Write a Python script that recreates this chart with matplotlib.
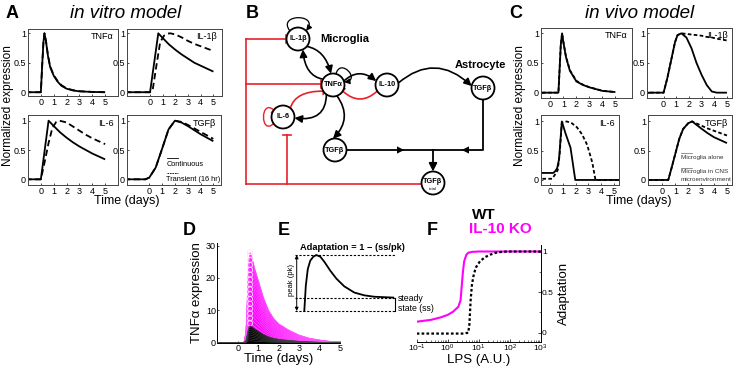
import matplotlib
matplotlib.use('Agg')
import matplotlib.pyplot as plt
import numpy as np
from matplotlib.patches import Circle, FancyArrowPatch, PathPatch
from matplotlib.path import Path

plt.rcParams['font.family'] = ['Liberation Sans', 'DejaVu Sans']
plt.rcParams['mathtext.default'] = 'regular'

# ---------------- DATA ----------------
# Panel A (in vitro) : time (days) and normalized expression
a_tnf_t = [-2, 0, 0.1, 0.2, 0.28, 0.4, 0.55, 0.72, 1.0, 1.3, 1.6, 2.0, 2.5, 3.0, 4.0, 5.0]
a_tnf_cont = [0, 0, 0.45, 0.85, 1.0, 0.86, 0.62, 0.43, 0.28, 0.18, 0.11, 0.06, 0.03, 0.015, 0.005, 0.0]
a_tnf_trans = [0, 0, 0.44, 0.84, 1.0, 0.87, 0.63, 0.44, 0.29, 0.19, 0.12, 0.065, 0.035, 0.017, 0.006, 0.0]

a_il1_t_c = [-2, 0, 0.65, 1.0, 1.5, 2.0, 2.5, 3.0, 3.5, 4.0, 4.5, 5.0]
a_il1_cont = [0, 0, 1.0, 0.92, 0.81, 0.72, 0.64, 0.57, 0.50, 0.45, 0.40, 0.35]
a_il1_t_d = [-2, 0, 0.2, 0.5, 0.8, 1.1, 1.4, 1.6, 2.0, 2.5, 3.0, 3.5, 4.0, 4.5, 5.0]
a_il1_trans = [0, 0, 0.03, 0.45, 0.85, 0.96, 0.995, 1.0, 0.98, 0.93, 0.87, 0.82, 0.78, 0.74, 0.70]

a_il6_t_c = [-2, 0, 0.6, 1.0, 1.5, 2.0, 2.5, 3.0, 3.5, 4.0, 4.5, 5.0]
a_il6_cont = [0, 0, 1.0, 0.91, 0.80, 0.71, 0.63, 0.56, 0.50, 0.44, 0.39, 0.34]
a_il6_t_d = [-2, 0, 0.3, 0.6, 0.9, 1.2, 1.45, 2.0, 2.5, 3.0, 3.5, 4.0, 4.5, 5.0]
a_il6_trans = [0, 0, 0.3, 0.62, 0.88, 0.98, 1.0, 0.97, 0.9, 0.83, 0.76, 0.70, 0.65, 0.60]

a_tgf_t = [-2, -0.3, 0, 0.5, 1.0, 1.5, 2.0, 2.5, 3.0, 3.5, 4.0, 4.5, 5.0]
a_tgf_cont = [0, 0, 0.03, 0.2, 0.52, 0.85, 1.0, 0.97, 0.91, 0.84, 0.77, 0.71, 0.65]
a_tgf_trans = [0, 0, 0.03, 0.2, 0.52, 0.85, 1.0, 0.98, 0.93, 0.87, 0.81, 0.75, 0.69]

# Panel C (in vivo)
c_tnf_t = [-2, 0.62, 0.7, 0.8, 0.9, 1.0, 1.2, 1.5, 2.0, 2.5, 3.0, 3.5, 4.0, 4.5, 5.0]
c_tnf_env = [0, 0, 0.35, 0.8, 1.0, 0.85, 0.6, 0.37, 0.19, 0.13, 0.09, 0.06, 0.03, 0.02, 0.01]
c_tnf_alone = [0, 0, 0.34, 0.79, 1.0, 0.86, 0.61, 0.38, 0.2, 0.135, 0.092, 0.062, 0.032, 0.02, 0.01]

c_il1_t = [-2, 0, 0.3, 0.6, 0.9, 1.1, 1.4, 1.8, 2.2, 2.6, 3.0, 3.4, 3.8, 4.2, 5.0]
c_il1_env = [0, 0, 0.25, 0.55, 0.85, 0.97, 1.0, 0.93, 0.75, 0.5, 0.3, 0.13, 0.02, 0, 0]
c_il1_alone = [0, 0, 0.25, 0.55, 0.85, 0.97, 1.0, 0.99, 0.98, 0.97, 0.96, 0.94, 0.93, 0.91, 0.88]

c_il6_t_env = [-2, 0.25, 0.4, 0.55, 0.7, 0.92, 1.2, 1.6, 1.97, 5.4]
c_il6_env = [0.12, 0.12, 0.15, 0.2, 0.35, 1.0, 0.8, 0.55, 0, 0]
c_il6_t_alone = [-2, 0.15, 0.35, 0.6, 0.75, 0.92, 1.3, 1.7, 2.1, 2.5, 2.9, 3.3, 3.55, 5.4]
c_il6_alone = [0.02, 0.02, 0.08, 0.17, 0.45, 0.98, 1.0, 0.97, 0.9, 0.78, 0.6, 0.3, 0, 0]

c_tgf_t = [-2, 0.45, 0.7, 1.0, 1.3, 1.6, 2.0, 2.3, 3.0, 3.5, 4.0, 4.5, 5.0]
c_tgf_env = [0, 0, 0.2, 0.45, 0.7, 0.87, 0.97, 1.0, 0.88, 0.8, 0.73, 0.68, 0.63]
c_tgf_alone = [0, 0, 0.2, 0.45, 0.7, 0.87, 0.97, 1.0, 0.93, 0.88, 0.84, 0.8, 0.76]

# Panel D : TNFa time course shape (normalised) and family of peak heights
d_t = [-1, 0.3, 0.4, 0.45, 0.5, 0.55, 0.6, 0.7, 0.85, 1.0, 1.25, 1.5, 1.75, 2.0, 2.5, 3.0, 3.5, 4.0, 4.5, 5.0]
d_shape = [0, 0, 0.12, 0.4, 0.72, 0.93, 1.0, 0.93, 0.8, 0.69, 0.5, 0.36, 0.27, 0.21, 0.14, 0.085, 0.05, 0.03, 0.015, 0.008]
ko_peaks = [6, 7.5, 9, 10.5, 12, 13.5, 15, 16.5, 18, 19.5, 21, 22.5, 24, 25.5, 27, 28]
wt_peaks = [0.6, 1.2, 1.8, 2.4, 3.0, 3.6, 4.2, 4.8, 5.3]

# Panel E : schematic adaptation curve
e_t = [0, 0.15, 0.35, 0.6, 0.9, 1.2, 1.6, 2.0, 2.6, 3.2, 4.0, 5.0, 6.0, 7.0, 8.9]
e_y = [0, 0.45, 0.75, 0.9, 0.97, 1.0, 0.97, 0.88, 0.72, 0.58, 0.44, 0.33, 0.28, 0.255, 0.24]
e_ss = 0.24

# Panel F : adaptation vs LPS
f_lps = [0.1, 0.3, 0.6, 1.0, 1.5, 2.2, 2.6, 2.8, 3.1, 3.4, 4.0, 4.6, 6.0, 10, 100, 1000]
f_ko = [0.136, 0.16, 0.19, 0.22, 0.26, 0.32, 0.4, 0.55, 0.75, 0.88, 0.96, 0.985, 0.995, 1.0, 1.0, 1.0]
f_lps_wt = [0.1, 1.0, 3.0, 4.6, 5.0, 5.5, 6.0, 6.7, 8.0, 11, 16, 23, 40, 80, 1000]
f_wt = [-0.01, -0.01, -0.01, 0.0, 0.1, 0.4, 0.58, 0.69, 0.8, 0.88, 0.93, 0.96, 0.99, 1.0, 1.0]

# ---------------- FIGURE ----------------
W, H = 743, 367
fig = plt.figure(figsize=(7.43, 3.67), dpi=100)


def px_axes(l, t, r, b):
    ax = fig.add_axes([l / W, 1 - b / H, (r - l) / W, (b - t) / H])
    ax.patch.set_alpha(0)
    return ax


def ftext(x, y, s, **kw):
    fig.text(x / W, 1 - y / H, s, **kw)


def small_panel(box, xlim, ylim, title, t1, v1, t2, v2, dash):
    ax = px_axes(*box)
    ax.plot(t1, v1, color='k', lw=1.3, solid_capstyle='butt')
    ax.plot(t2, v2, color='k', lw=1.3, ls=dash)
    ax.set_xlim(xlim)
    ax.set_ylim(ylim)
    ax.set_xticks([0, 1, 2, 3, 4, 5])
    ax.set_yticks([0, 0.5, 1])
    ax.set_yticklabels(['0', '0.5', '1'])
    ax.tick_params(labelsize=6.5, length=1.5, direction='in', pad=1.5, width=0.5)
    for s in ax.spines.values():
        s.set_linewidth(0.7)
        s.set_color('#444444')
    ax.text(0.95, 0.95, title, transform=ax.transAxes, ha='right', va='top', fontsize=6.5)
    return ax

dashA = (0, (3.5, 2))
dashC = (0, (2, 1.3))

# Panel A
small_panel((28, 29, 118, 96), (-1.0, 6.0), (-0.064, 1.073), 'TNFα', a_tnf_t, a_tnf_cont, a_tnf_t, a_tnf_trans, dashA)
small_panel((127, 29, 222, 96), (-1.82, 5.68), (-0.064, 1.073), 'IL-1β', a_il1_t_c, a_il1_cont, a_il1_t_d, a_il1_trans, dashA)
small_panel((28, 115, 118, 185), (-1.0, 6.0), (-0.097, 1.097), 'IL-6', a_il6_t_c, a_il6_cont, a_il6_t_d, a_il6_trans, dashA)
small_panel((127, 115, 221, 185), (-1.74, 5.6), (-0.097, 1.097), 'TGFβ', a_tgf_t, a_tgf_cont, a_tgf_t, a_tgf_trans, dashA)

ftext(12, 13, 'A', fontsize=13, fontweight='bold', ha='center', va='center')
ftext(126, 13, 'in vitro model', fontsize=13.5, style='italic', ha='center', va='center')
ftext(8, 106, 'Normalized expression', fontsize=8.6, rotation=90, ha='center', va='center')
ftext(127, 201, 'Time (days)', fontsize=9, ha='center', va='center')
# legend A
fig.add_artist(plt.Line2D([166.7 / W, 178.3 / W], [1 - 158.3 / H, 1 - 158.3 / H], color='k', lw=0.6))
ftext(166.7, 164.3, 'Continuous', fontsize=5.3, ha='left', va='center')
fig.add_artist(plt.Line2D([166.7 / W, 178.3 / W], [1 - 173 / H, 1 - 173 / H], color='k', lw=0.6, ls=(0, (2, 1))))
ftext(166.0, 179.3, 'Transient (16 hr)', fontsize=5.3, ha='left', va='center')

# Panel C
small_panel((541, 28, 632, 98), (-0.72, 6.28), (-0.09, 1.09), 'TNFα', c_tnf_t, c_tnf_env, c_tnf_t, c_tnf_alone, dashC)
small_panel((647, 28, 732, 98), (-1.31, 5.4), (-0.09, 1.09), 'IL-1β', c_il1_t, c_il1_env, c_il1_t, c_il1_alone, dashC)
small_panel((541, 115, 619, 185), (-0.71, 5.39), (-0.086, 1.11), 'IL-6', c_il6_t_env, c_il6_env, c_il6_t_alone, c_il6_alone, dashC)
small_panel((648, 115, 732, 185), (-1.12, 5.39), (-0.086, 1.11), 'TGFβ', c_tgf_t, c_tgf_env, c_tgf_t, c_tgf_alone, dashC)

ftext(516, 13, 'C', fontsize=13, fontweight='bold', ha='center', va='center')
ftext(640, 13, 'in vivo model', fontsize=13.5, style='italic', ha='center', va='center')
ftext(520, 106, 'Normalized expression', fontsize=8.6, rotation=90, ha='center', va='center')
ftext(639, 201.5, 'Time (days)', fontsize=9, ha='center', va='center')
fig.add_artist(plt.Line2D([681 / W, 691.7 / W], [1 - 153.3 / H, 1 - 153.3 / H], color='#666666', lw=0.5))
ftext(681, 157, 'Microglia alone', fontsize=4.6, ha='left', va='center', color='#333333')
fig.add_artist(plt.Line2D([681 / W, 691.7 / W], [1 - 168.3 / H, 1 - 168.3 / H], color='#666666', lw=0.5))
ftext(681, 172, 'Microglia in CNS', fontsize=4.6, ha='left', va='center', color='#333333')
ftext(681, 179.5, 'microenvironment', fontsize=4.6, ha='left', va='center', color='#333333')

# ---------------- Panel B : network ----------------
axB = px_axes(230, 0, 520, 220)
axB.set_xlim(230, 520)
axB.set_ylim(220, 0)
axB.axis('off')
R = 11.5
node_pos = {'IL1b': (298, 39), 'TNF': (333, 85), 'IL10': (387, 85), 'TGFa': (483, 88),
            'IL6': (283, 117), 'TGFm': (335, 150), 'TGFt': (433, 183)}
node_lab = {'IL1b': 'IL-1β', 'TNF': 'TNFα', 'IL10': 'IL-10', 'TGFa': 'TGFβ',
            'IL6': 'IL-6', 'TGFm': 'TGFβ', 'TGFt': 'TGFβ'}
for k, (x, y) in node_pos.items():
    axB.add_patch(Circle((x, y), R, fc='white', ec='k', lw=1.3, zorder=3))
    if k == 'TGFt':
        axB.text(x, y - 1.5, node_lab[k], fontsize=5.3, fontweight='bold', ha='center', va='center', zorder=4)
        axB.text(x, y + 5.5, 'total', fontsize=3, ha='center', va='center', zorder=4)
    else:
        axB.text(x, y, node_lab[k], fontsize=5.3, fontweight='bold', ha='center', va='center', zorder=4)

red = '#e8202a'


def pt(n, ang, k=1.0):
    x, y = node_pos[n]
    a = np.deg2rad(ang)
    return (x + k * R * np.cos(a), y - k * R * np.sin(a))


def tbar(p, c, color, L=8, lw=1.2):
    d = np.array(p) - np.array(c)
    d = d / np.hypot(*d)
    q = np.array([-d[1], d[0]]) * L / 2
    axB.plot([p[0] - q[0], p[0] + q[0]], [p[1] - q[1], p[1] + q[1]], color=color, lw=lw,
             solid_capstyle='butt', zorder=2)


def edge(points, color='k', kind='arrow', lw=1.2, ms=11):
    pts = [tuple(p) for p in points]
    if len(pts) == 3:
        codes = [Path.MOVETO, Path.CURVE3, Path.CURVE3]
    else:
        codes = [Path.MOVETO, Path.CURVE4, Path.CURVE4, Path.CURVE4]
    path = Path(pts, codes)
    if kind == 'arrow':
        axB.add_patch(FancyArrowPatch(path=path, arrowstyle='-|>', mutation_scale=ms, color=color,
                                      lw=lw, zorder=2))
    else:
        axB.add_patch(PathPatch(path, fill=False, ec=color, lw=lw, zorder=2))
        tbar(pts[-1], pts[-2], color)

# black activations
edge([pt('IL1b', 135), pt('IL1b', 130, 2.9), pt('IL1b', 50, 2.9), pt('IL1b', 45)], lw=0.9, ms=8)
edge([pt('IL1b', -40), (325, 50), pt('TNF', 100)])
edge([pt('TNF', 150), (305, 76), pt('IL1b', -65)])
edge([pt('TNF', 75), pt('TNF', 75, 2.5), pt('TNF', 10, 2.5), pt('TNF', 15)], lw=0.9, ms=8)
edge([pt('TNF', 20), (359, 67), pt('IL10', 160)])
edge([pt('IL10', 10), (435, 52), pt('TGFa', 170)])
edge([pt('TNF', 235), (326, 122), pt('IL6', -5)])
edge([pt('TNF', 290), (353, 118), pt('TGFm', 100)])
# red inhibitions
edge([pt('IL10', 212), (360, 107), pt('TNF', -32)], color=red, kind='bar')
edge([pt('IL6', 50), (295, 91), pt('TNF', 212)], color=red, kind='bar')
edge([pt('IL6', 215), pt('IL6', 220, 2.6), pt('IL6', 140, 2.6), pt('IL6', 143)], color=red, kind='bar', lw=1.0)
# TGFb flows
yj = node_pos['TGFm'][1]
xj = node_pos['TGFt'][0]
axB.plot([node_pos['TGFm'][0] + R, xj], [yj, yj], color='k', lw=1.3)
axB.add_patch(FancyArrowPatch((380, yj), (407, yj), arrowstyle='-|>', mutation_scale=13, color='k', lw=0))
xa = node_pos['TGFa'][0]
axB.plot([xa, xa, xj], [node_pos['TGFa'][1] + R, yj, yj], color='k', lw=1.3)
axB.add_patch(FancyArrowPatch((485, yj), (459, yj), arrowstyle='-|>', mutation_scale=13, color='k', lw=0))
axB.add_patch(FancyArrowPatch((xj, yj), (xj, node_pos['TGFt'][1] - R), arrowstyle='-|>', mutation_scale=12,
                              color='k', lw=1.3, shrinkA=0, shrinkB=0))
# red network lines
xr = 246
axB.plot([xr, xr], [39, 184], color=red, lw=1.2)
xe1 = node_pos['IL1b'][0] - R - 1
axB.plot([xr, xe1], [39, 39], color=red, lw=1.2)
axB.plot([xe1, xe1], [35, 43], color=red, lw=1.2)
xe2 = node_pos['TNF'][0] - R - 1
axB.plot([xr, xe2], [84, 84], color=red, lw=1.2)
axB.plot([xe2, xe2], [80, 88], color=red, lw=1.2)
axB.plot([xr, node_pos['TGFt'][0] - R], [184, 184], color=red, lw=1.2)
axB.plot([287, 287], [184, 135], color=red, lw=1.2)
axB.plot([283, 291], [135, 135], color=red, lw=1.2)
axB.text(252, 13, 'B', fontsize=13, fontweight='bold', ha='center', va='center')
axB.text(345, 39, 'Microglia', fontsize=8, fontweight='bold', ha='center', va='center')
axB.text(480, 65, 'Astrocyte', fontsize=8, fontweight='bold', ha='center', va='center')

# ---------------- Panel D ----------------
axD = px_axes(217.3, 243, 340, 342.7)
shape = np.array(d_shape)
axD.fill_between(d_t, 0, max(ko_peaks) * shape, color='#ff00ff', lw=0, zorder=1)
for p in ko_peaks:
    axD.plot(d_t, p * shape, color='#ff55ff', lw=0.5, zorder=2)
axD.scatter([d_t[6]] * len(ko_peaks), ko_peaks, s=14, facecolors='none', edgecolors='#ffe0ff', lw=0.6, zorder=3)
axD.fill_between(d_t, 0, max(wt_peaks) * shape, color='k', lw=0, zorder=4)
for p in wt_peaks:
    axD.plot(d_t, p * shape, color='#444444', lw=0.4, zorder=5)
axD.set_xlim(-1, 5)
axD.set_ylim(0, 30.8)
axD.set_xticks([0, 1, 2, 3, 4, 5])
axD.set_yticks([0, 10, 20, 30])
axD.spines['top'].set_visible(False)
axD.spines['right'].set_visible(False)
axD.tick_params(labelsize=6.5, length=1.5, width=0.5, pad=1, direction='in')
for s in ('left', 'bottom'):
    axD.spines[s].set_linewidth(0.7)
axD.set_ylabel('TNFα expression', fontsize=9.5, labelpad=2)
axD.set_xlabel('Time (days)', fontsize=9.5, labelpad=0)
ftext(189, 230, 'D', fontsize=13, fontweight='bold', ha='center', va='center')

# ---------------- Panel E ----------------
axE = px_axes(285, 240, 412, 322)
axE.set_xlim(-1.93, 10.77)
axE.set_ylim(-0.196, 1.268)
axE.axis('off')
axE.plot(e_t, e_y, color='k', lw=1.3)
for yy in (1.0, e_ss, 0.0):
    axE.plot([-0.9, 9.1], [yy, yy], color='k', lw=0.8, ls=(0, (2, 1.5)))
axE.annotate('', xy=(-0.76, 1.0), xytext=(-0.76, 0.0),
             arrowprops=dict(arrowstyle='<|-|>', lw=0.7, color='k', mutation_scale=5, shrinkA=0, shrinkB=0))
axE.text(-1.3, 0.55, 'peak (pk)', rotation=90, fontsize=5.5, ha='center', va='center')
axE.plot([9.1, 9.1], [0, e_ss], color='k', lw=0.8)
axE.text(9.35, 0.22, 'steady', fontsize=6.3, ha='left', va='center', clip_on=False)
axE.text(9.35, 0.04, 'state (ss)', fontsize=6.3, ha='left', va='center', clip_on=False)
axE.text(-0.45, 1.13, 'Adaptation = 1 − (ss/pk)', fontsize=6.7, fontweight='bold', ha='left', va='center')
ftext(284, 230, 'E', fontsize=13, fontweight='bold', ha='center', va='center')

# ---------------- Panel F ----------------
axF = px_axes(416.7, 245, 540.7, 341.7)
axF.plot(f_lps, f_ko, color='#ff00ff', lw=1.5)
axF.plot(f_lps_wt, f_wt, color='k', lw=1.6, ls=(0, (1.2, 1.0)))
axF.set_xscale('log')
axF.set_xlim(0.1, 1000)
axF.set_ylim(-0.11, 1.08)
axF.spines['top'].set_visible(False)
axF.spines['left'].set_visible(False)
axF.yaxis.tick_right()
axF.yaxis.set_label_position('right')
axF.set_yticks([0, 0.5, 1])
axF.set_yticklabels(['0', '0.5', '1'])
axF.set_yticks([0.25, 0.75], minor=True)
axF.set_xticks([0.1, 1, 10, 100, 1000])
axF.set_xticklabels(['$10^{-1}$', '$10^{0}$', '$10^{1}$', '$10^{2}$', '$10^{3}$'])
axF.tick_params(labelsize=6, length=2, width=0.5, pad=1, direction='in')
axF.tick_params(which='minor', length=1.2, width=0.4, direction='in')
for s in ('right', 'bottom'):
    axF.spines[s].set_linewidth(0.7)
axF.set_xlabel('LPS (A.U.)', fontsize=9.5, labelpad=0)
axF.set_ylabel('Adaptation', fontsize=9.5, labelpad=3)
ftext(432, 230, 'F', fontsize=13, fontweight='bold', ha='center', va='center')
ftext(484, 215, 'WT', fontsize=11, fontweight='bold', ha='center', va='center')
ftext(500, 229, 'IL-10 KO', fontsize=11, fontweight='bold', color='#ff00ff', ha='center', va='center')

fig.savefig('out.png', dpi=100)
